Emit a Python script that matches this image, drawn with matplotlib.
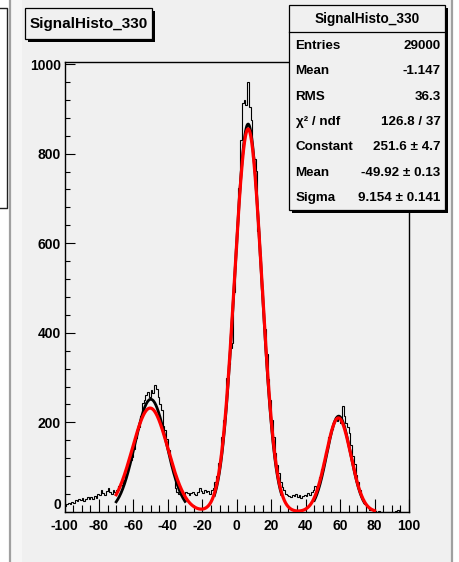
import numpy as np
import matplotlib
matplotlib.use("Agg")
import matplotlib.pyplot as plt
from matplotlib.patches import Rectangle
from matplotlib.lines import Line2D
from matplotlib.ticker import MultipleLocator, FixedLocator

# ---------------------------------------------------------------- data
hist_title = "SignalHisto_330"
x_range = (-100, 100)
n_bins = 200

counts = [
    # -100 .. -71
    14, 18, 21, 17, 22, 20, 26, 24, 29, 27,
    31, 25, 30, 33, 28, 34, 30, 36, 32, 41,
    37, 50, 43, 39, 47, 53, 44, 40, 48, 45,
    # -70 .. -37
    50, 57, 64, 60, 72, 84, 98, 105, 116, 122,
    140, 165, 186, 190, 214, 243, 250, 262, 268, 257,
    272, 266, 283, 275, 256, 240, 228, 192, 183, 162,
    138, 121, 103, 88,
    # -36 .. -14
    54, 45, 41, 43, 47, 40, 44, 42, 39, 43,
    45, 41, 38, 44, 54, 46, 42, 48, 44, 47,
    41, 50, 53,
    # -13 .. 29
    66, 80, 110, 127, 168, 206, 238, 300, 330, 365,
    378, 492, 590, 650, 724, 830, 912, 920, 908, 960,
    905, 876, 792, 788, 762, 628, 572, 497, 450, 408,
    352, 296, 250, 205, 168, 132, 104, 86, 68, 55,
    48, 40, 38,
    # 30 .. 43
    36, 33, 38, 35, 40, 34, 37, 32, 36, 39, 35, 42, 37, 44,
    # 44 .. 75
    50, 57, 52, 66, 78, 96, 112, 134, 140, 168,
    180, 186, 200, 212, 204, 210, 198, 236, 214, 198,
    190, 176, 150, 124, 108, 82, 66, 48, 38, 28,
    18, 12,
    # 76 .. 99
    8, 5, 4, 2, 3, 1, 2, 1, 0, 1, 0, 1, 0, 0, 1, 0, 2, 5, 2, 0, 0, 0, 0, 0,
]

# single-peak gaussian fits (black): constant, mean, sigma, range
black_fits = [
    (251.6, -49.92, 9.154, (-70, -30)),
    (866.0, 6.6, 7.8, (-13, 26)),
    (214.0, 59.2, 6.9, (45, 74)),
]
# three-gaussian fit over the full signal region (red)
red_params = [(232.0, -50.3, 10.4), (855.0, 6.6, 7.95), (210.0, 59.0, 7.2)]
red_range = (-70, 80)

stat_labels = ["Entries", "Mean", "RMS", "\u03c7\u00b2 / ndf", "Constant", "Mean", "Sigma"]
stat_values = ["29000", "-1.147", "36.3", "126.8 / 37",
               "251.6 \u00b1 4.7", "-49.92 \u00b1 0.13", "9.154 \u00b1 0.141"]

x_ticks = [-100, -80, -60, -40, -20, 0, 20, 40, 60, 80, 100]
x_tick_labels = ["-100", "-80", "-60", "-40", "-20", "0", "20", "40", "60", "80", "100"]
y_ticks = [0, 200, 400, 600, 800, 1000]
y_tick_labels = ["0", "200", "400", "600", "800", "1000"]
y_max = 1004.5

# ---------------------------------------------------------------- style
FONT = ["Liberation Sans", "DejaVu Sans"]
plt.rcParams["font.family"] = FONT
plt.rcParams["font.weight"] = "bold"
plt.rcParams["axes.unicode_minus"] = False

W, H = 459, 562
PAD_BG = "#f0f0f0"


def fx(px):
    return px / W


def fy(py):
    return 1 - py / H


def gauss(x, a, m, s):
    return a * np.exp(-0.5 * ((x - m) / s) ** 2)


fig = plt.figure(figsize=(W / 100, H / 100), dpi=100)
fig.patch.set_facecolor("white")

# canvas pad background and its borders
fig.add_artist(Rectangle((fx(10), 0), fx(442), 1, transform=fig.transFigure,
                         facecolor=PAD_BG, edgecolor="none", zorder=0))
fig.add_artist(Rectangle((fx(11), 0), fx(11), 1, transform=fig.transFigure,
                         facecolor="#f6f6f6", edgecolor="none", zorder=0))
for xp in (10, 452):
    fig.add_artist(Line2D([fx(xp), fx(xp)], [0, 1], transform=fig.transFigure,
                          color="#a0a0a0", lw=1.6, zorder=1))
# edge of the neighbouring pad's stat box
fig.add_artist(Line2D([0, fx(7), fx(7), 0], [fy(8), fy(8), fy(208), fy(208)],
                      transform=fig.transFigure, color="#202020", lw=1.0, zorder=1))

# ---------------------------------------------------------------- axes
ax = fig.add_axes([fx(64.5), fy(512), fx(409 - 64.5), (512 - 62) / H])
ax.set_facecolor(PAD_BG)
ax.set_xlim(*x_range)
ax.set_ylim(0, y_max)

edges = np.linspace(x_range[0], x_range[1], n_bins + 1)
ax.stairs(counts, edges, baseline=None, color="black", lw=0.8, zorder=2)

for a, m, s, (lo, hi) in black_fits:
    xs = np.linspace(lo, hi, 300)
    ax.plot(xs, gauss(xs, a, m, s), color="black", lw=2.0, zorder=3)

xs = np.linspace(red_range[0], red_range[1], 800)
ys = sum(gauss(xs, a, m, s) for a, m, s in red_params)
ax.plot(xs, ys, color="#ff0000", lw=2.3, zorder=4)

for sp in ax.spines.values():
    sp.set_linewidth(1.0)
    sp.set_color("black")

ax.xaxis.set_major_locator(FixedLocator(x_ticks))
ax.set_xticklabels(x_tick_labels)
ax.xaxis.set_minor_locator(MultipleLocator(5))
ax.yaxis.set_major_locator(FixedLocator(y_ticks))
ax.set_yticklabels(y_tick_labels)
ax.yaxis.set_minor_locator(MultipleLocator(40))

ax.tick_params(axis="x", which="major", direction="in", length=9.5, width=0.8,
               labelsize=10, pad=5, top=False)
ax.tick_params(axis="x", which="minor", direction="in", length=5, width=0.8, top=False)
ax.tick_params(axis="y", which="major", direction="in", length=7.5, width=0.8,
               labelsize=10, pad=2.5, right=False)
ax.tick_params(axis="y", which="minor", direction="in", length=3.8, width=0.8, right=False)
for lab in ax.get_xticklabels() + ax.get_yticklabels():
    lab.set_fontweight("bold")
# the zero label sits a little above its tick, clear of the x labels
ax.get_yticklabels()[0].set_verticalalignment("bottom")

# ---------------------------------------------------------------- title box
def shadow_box(x0, y0, x1, y1, z):
    fig.add_artist(Rectangle((fx(x0 + 2.5), fy(y1 + 2.5)), fx(x1 - x0), (y1 - y0) / H,
                             transform=fig.transFigure, facecolor="black",
                             edgecolor="none", zorder=z))
    fig.add_artist(Rectangle((fx(x0), fy(y1)), fx(x1 - x0), (y1 - y0) / H,
                             transform=fig.transFigure, facecolor=PAD_BG,
                             edgecolor="black", lw=0.9, zorder=z + 0.1))


shadow_box(25, 8, 152, 39, 10)
fig.text(fx(88.5), fy(24), hist_title, ha="center", va="center",
         fontsize=11, fontweight="bold", zorder=11)

# ---------------------------------------------------------------- stats box
shadow_box(289, 5, 445, 210, 10)
fig.add_artist(Line2D([fx(289), fx(445)], [fy(32), fy(32)], transform=fig.transFigure,
                      color="black", lw=0.9, zorder=11))
fig.text(fx(367), fy(18.5), hist_title, ha="center", va="center",
         fontsize=9.8, fontweight="bold", zorder=11)
row_y = np.linspace(46, 198, len(stat_labels))
for yy, lab, val in zip(row_y, stat_labels, stat_values):
    fig.text(fx(295.5), fy(yy), lab, ha="left", va="center",
             fontsize=9.6, fontweight="bold", zorder=11)
    fig.text(fx(440.5), fy(yy), val, ha="right", va="center",
             fontsize=9.6, fontweight="bold", zorder=11)

fig.savefig("out.png", dpi=100, facecolor=fig.get_facecolor())
